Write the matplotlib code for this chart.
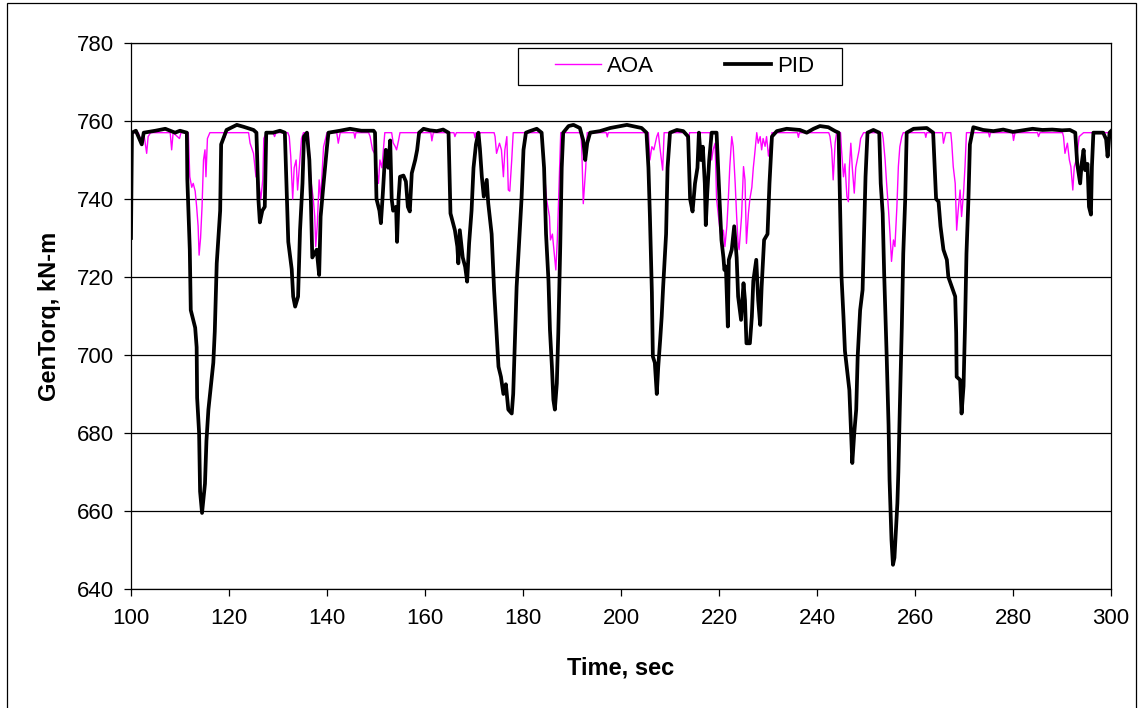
import matplotlib
matplotlib.use('Agg')
import matplotlib.pyplot as plt
from matplotlib.patches import Rectangle

plt.rcParams['font.family'] = ['Liberation Sans', 'DejaVu Sans']

# PID controller generator torque (time sec, kN-m)
pid_t = [100.0, 100.2, 101.0, 102.2, 102.6, 105.0, 107.0, 109.0, 110.0, 111.4,
         111.5, 112.0, 112.2, 113.1, 113.4, 113.5, 113.9, 114.1, 114.5, 115.1,
         115.4, 115.8, 116.8, 117.1, 117.5, 118.2, 118.4, 119.5, 121.6, 123.0,
         125.0, 125.6, 126.0, 126.3, 126.8, 127.3, 127.6, 129.0, 130.4, 131.4,
         132.1, 132.8, 133.1, 133.5, 134.1, 134.5, 135.0, 135.3, 135.9, 136.4,
         136.7, 137.0, 137.9, 138.4, 138.7, 139.3, 140.0, 140.3, 142.65, 144.7,
         147.0, 149.5, 149.8, 150.1, 150.7, 151.0, 151.4, 151.7, 152.0, 152.5,
         152.9, 153.2, 153.5, 154.1, 154.3, 154.6, 154.9, 155.6, 156.1, 156.5,
         156.9, 157.3, 158.0, 158.4, 158.8, 159.7, 161.0, 162.4, 163.7, 164.8,
         165.2, 166.1, 166.6, 166.8, 167.1, 167.7, 168.2, 168.6, 169.0, 169.5,
         169.9, 170.4, 170.9, 171.2, 171.6, 172.0, 172.6, 172.9, 173.6, 174.1,
         174.6, 175.0, 175.5, 176.0, 176.5, 177.0, 177.7, 178.0, 178.4, 178.7,
         179.3, 179.7, 180.1, 180.6, 181.4, 182.8, 183.8, 184.3, 184.7, 185.2,
         185.5, 185.9, 186.2, 186.5, 186.9, 187.2, 187.6, 187.9, 188.2, 189.3,
         190.3, 191.6, 192.3, 192.7, 193.1, 193.7, 195.7, 197.8, 201.2, 204.2,
         205.2, 205.6, 205.9, 206.3, 206.5, 206.9, 207.3, 207.6, 208.0, 208.3,
         208.6, 209.2, 209.5, 210.0, 211.4, 212.7, 213.7, 214.1, 214.6, 215.1,
         215.6, 215.9, 216.3, 216.7, 217.1, 217.3, 217.6, 218.0, 218.5, 219.5,
         220.1, 220.5, 220.9, 221.1, 221.4, 221.8, 222.0, 222.6, 223.1, 223.6,
         223.9, 224.5, 225.0, 225.3, 225.6, 226.3, 226.7, 227.0, 227.6, 228.0,
         228.4, 228.7, 229.2, 229.9, 230.3, 230.8, 231.8, 233.8, 236.5, 237.9,
         239.3, 240.6, 242.3, 243.7, 244.4, 245.0, 245.4, 245.7, 246.2, 246.6,
         246.9, 247.2, 247.6, 248.0, 248.3, 248.8, 249.3, 249.6, 249.9, 250.3,
         251.5, 252.7, 253.0, 253.4, 253.7, 254.2, 254.6, 254.8, 255.0, 255.2,
         255.5, 255.8, 256.1, 256.4, 256.6, 256.9, 257.3, 257.6, 258.0, 258.3,
         259.7, 262.4, 263.7, 264.3, 264.8, 265.2, 265.8, 266.5, 266.8, 267.5,
         268.2, 268.4, 268.5, 269.2, 269.5, 269.9, 270.2, 270.5, 270.9, 271.2,
         271.9, 273.9, 276.0, 278.0, 280.0, 282.0, 284.0, 286.0, 288.0, 290.0,
         291.6, 292.7, 293.1, 293.7, 294.0, 294.4, 294.7, 295.2, 295.5, 295.9,
         296.1, 296.4, 298.4, 299.0, 299.3, 299.7, 300.0]
pid_v = [730.0, 757.0, 757.5, 754.0, 757.0, 757.5, 758.0, 757.0, 757.5, 757.0,
         745.0, 727.0, 711.5, 707.0, 702.0, 689.0, 680.0, 665.0, 659.5, 667.0,
         678.0, 686.0, 698.0, 706.0, 723.5, 737.0, 754.0, 757.7, 759.0, 758.5,
         757.7, 757.0, 740.0, 734.0, 737.0, 738.0, 757.0, 757.0, 757.5, 757.0,
         729.0, 722.0, 715.0, 712.4, 715.0, 732.0, 744.0, 756.0, 757.0, 750.0,
         740.0, 725.0, 727.0, 720.5, 735.5, 744.0, 753.4, 757.0, 757.5, 758.0,
         757.5, 757.5, 757.0, 740.0, 737.0, 733.8, 741.5, 748.0, 752.6, 748.0,
         755.0, 740.0, 737.0, 738.0, 729.0, 740.0, 745.7, 746.0, 744.5, 738.0,
         736.8, 746.6, 750.0, 752.6, 757.0, 758.0, 757.6, 757.4, 757.8, 757.0,
         736.3, 732.0, 727.8, 723.5, 732.0, 725.0, 722.6, 718.8, 728.6, 737.0,
         748.0, 754.0, 757.0, 753.0, 745.7, 740.6, 744.9, 739.0, 731.0, 716.7,
         705.6, 697.0, 694.4, 690.0, 692.5, 686.0, 685.0, 690.0, 705.6, 717.5,
         731.0, 740.0, 752.6, 757.0, 757.4, 758.0, 757.0, 748.0, 731.0, 719.0,
         706.4, 697.0, 688.5, 686.0, 692.7, 705.6, 727.8, 748.0, 757.0, 758.7,
         759.0, 758.2, 755.0, 750.0, 754.3, 757.0, 757.4, 758.2, 759.0, 758.2,
         757.0, 748.0, 735.5, 716.0, 699.6, 698.0, 690.0, 697.0, 704.0, 709.8,
         717.5, 731.0, 748.0, 757.0, 757.7, 757.4, 756.0, 740.0, 736.8, 744.0,
         748.0, 757.0, 750.0, 753.4, 744.0, 733.3, 741.5, 750.0, 757.0, 757.0,
         740.0, 729.5, 725.0, 721.8, 722.7, 707.3, 724.4, 727.0, 733.0, 725.0,
         715.0, 709.0, 718.4, 714.0, 703.0, 703.0, 709.8, 719.0, 724.4, 714.0,
         707.7, 717.5, 729.5, 731.0, 744.0, 756.0, 757.4, 758.0, 757.7, 757.0,
         758.0, 758.7, 758.4, 757.4, 757.0, 720.0, 709.8, 701.0, 695.3, 691.0,
         681.5, 672.3, 680.0, 686.0, 699.6, 711.5, 716.7, 731.0, 745.7, 757.0,
         757.7, 757.0, 744.0, 736.3, 721.0, 700.4, 682.0, 668.0, 660.0, 652.6,
         646.2, 648.0, 655.0, 662.0, 670.0, 686.5, 707.0, 726.0, 740.0, 757.0,
         758.0, 758.2, 757.0, 740.0, 739.3, 733.0, 727.0, 724.4, 720.0, 717.5,
         715.0, 705.6, 694.4, 693.6, 685.0, 692.0, 707.3, 726.0, 740.0, 754.0,
         758.4, 757.7, 757.4, 757.8, 757.2, 757.6, 758.0, 757.7, 757.8, 757.6,
         757.7, 757.0, 749.0, 744.0, 749.0, 752.6, 747.4, 749.0, 738.0, 736.0,
         748.3, 757.0, 757.0, 755.3, 750.9, 757.0, 757.4]

# AOA controller generator torque (time sec, kN-m)
aoa_t = [100.0, 101.5, 102.2, 102.6, 103.2, 103.5, 104.0, 108.0, 108.3, 108.6,
         109.9, 110.2, 111.7, 112.0, 112.4, 112.7, 113.1, 113.4, 113.7, 113.9,
         114.2, 114.5, 114.8, 115.1, 115.3, 115.6, 116.1, 119.0, 119.2, 119.4,
         124.0, 124.3, 125.0, 125.5,
         126.0, 126.5, 126.9, 127.1, 127.6, 129.0, 129.3, 129.6, 132.0, 132.3, 132.6,
         133.0, 133.3, 133.7, 134.0, 134.35, 134.8, 135.2, 136.2, 136.7, 137.2,
         137.5, 137.7, 138.0, 138.4, 138.7, 139.3, 140.0, 142.0, 142.3, 142.7,
         145.5, 145.7, 145.9, 148.5,
         148.8, 149.3, 149.7, 150.1, 150.5, 150.8, 151.2, 151.5, 151.8, 153.2,
         153.5, 153.9, 154.2, 154.6, 154.9, 161.2, 161.4, 161.7, 165.9, 166.1, 166.4,
         170.0, 170.2, 170.4, 174.1, 174.3,
         174.6, 175.2, 175.6, 176.0, 176.3, 176.7, 177.0, 177.3, 177.7, 178.0,
         183.8, 184.3, 184.8, 185.4, 185.6, 186.0, 186.3, 186.7, 187.0, 187.3,
         187.7, 191.8, 192.0, 192.3, 192.8, 193.1, 197.0, 197.2, 197.4, 205.6,
         205.9, 206.3, 206.7, 207.3,
         207.6, 208.0, 208.5, 208.8, 213.2, 213.4, 213.7, 214.0, 218.2, 218.5, 218.8,
         219.2, 219.5, 219.9, 220.2, 220.5, 220.9, 221.2, 221.6, 221.9, 222.2,
         222.6, 222.9, 223.3, 223.6, 223.9, 224.1, 224.6, 225.0, 225.3, 225.6,
         226.0, 226.3, 226.7, 227.0, 227.3, 227.7, 228.0, 228.4, 228.7, 229.0,
         229.4, 229.7, 230.1, 230.4, 230.8, 236.0, 236.2, 236.4, 242.4, 242.65,
         243.0, 243.3, 243.7, 244.0,
         244.8, 245.0, 245.4, 245.7, 246.1, 246.4, 246.6, 246.9, 247.2, 247.6, 247.9,
         248.2, 248.6, 248.9, 249.5, 253.3, 253.5, 253.9, 254.2, 254.6, 254.9, 255.2,
         255.6, 255.9, 256.3, 256.6, 256.9, 257.3, 257.6, 262.0, 262.2, 262.4,
         265.6, 265.8, 266.1, 266.3, 267.3, 267.5,
         267.8, 268.2, 268.5, 268.8, 269.2, 269.5, 269.9, 270.2, 270.5, 275.0,
         275.2, 275.4, 279.9, 280.1,
         280.4, 285.0, 285.2, 285.5, 290.1, 290.3, 290.6, 291.1, 291.5, 291.8, 292.2, 292.5,
         292.9, 293.1, 293.5, 294.4, 300.0]
aoa_v = [757.0, 757.0, 754.5, 757.0, 751.7, 756.0, 757.0, 757.0, 752.6, 757.0,
         755.5, 757.0, 757.0, 745.7, 743.0, 744.0, 742.0, 738.0, 733.0, 725.6,
         730.0, 738.0, 750.0, 752.6, 745.7, 755.5, 757.0, 757.0, 755.8, 757.0,
         757.0, 754.3, 751.7, 745.7,
         745.0, 740.0, 745.0, 755.5, 757.0, 757.0, 756.0, 757.0, 757.0, 756.0, 751.0,
         740.0, 748.0, 750.0, 742.3, 748.0, 755.5, 757.0, 757.0, 744.9, 740.0,
         735.5, 727.8, 733.0, 744.9, 740.0, 753.4, 757.0, 757.0, 754.3, 757.0,
         757.0, 755.6, 757.0, 757.0,
         756.0, 752.6, 751.7, 748.0, 744.0, 750.0, 748.0, 752.6, 757.0, 757.0,
         754.4, 753.5, 752.6, 755.0, 757.0, 757.0, 754.9, 757.0, 757.0, 756.0, 757.0,
         757.0, 755.7, 757.0, 757.0, 756.0,
         751.7, 754.3, 752.6, 745.7, 752.6, 756.0, 742.3, 742.0, 750.0, 757.0,
         757.0, 748.0, 740.0, 735.5, 729.5, 731.0, 727.0, 721.8, 729.5, 741.5,
         757.0, 757.0, 752.6, 738.8, 748.0, 757.0, 757.0, 755.9, 757.0, 757.0,
         750.0, 753.4, 752.6, 756.0,
         757.0, 752.6, 747.4, 757.0, 757.0, 756.0, 754.3, 757.0, 757.0, 750.0, 752.6,
         754.3, 740.0, 735.5, 732.0, 729.5, 732.0, 727.8, 733.0, 740.0, 748.3,
         756.0, 753.4, 744.0, 735.5, 728.6, 727.0, 735.5, 748.3, 744.9, 728.6,
         736.3, 740.0, 743.0, 748.0, 751.7, 757.0, 754.3, 756.0, 752.6, 755.5,
         753.5, 756.0, 751.0, 753.5, 757.0, 757.0, 755.8, 757.0, 757.0, 756.0,
         752.6, 744.9, 754.4, 757.0,
         757.0, 752.6, 745.7, 749.0, 740.6, 739.3, 748.0, 754.3, 748.0, 741.5, 748.0,
         750.0, 752.6, 755.5, 757.0, 757.0, 755.5, 750.0, 744.0, 737.0, 731.0, 724.0,
         729.5, 727.8, 738.0, 748.3, 753.4, 756.0, 757.0, 757.0, 755.8, 757.0,
         757.0, 754.3, 756.0, 757.0, 757.0, 754.3,
         748.3, 744.0, 732.0, 737.0, 742.3, 735.5, 741.5, 748.3, 757.0, 757.0,
         755.9, 757.0, 757.0, 755.0,
         757.0, 757.0, 756.0, 757.0, 757.0, 756.0, 751.7, 754.3, 750.0, 748.3, 742.3, 748.3,
         750.0, 751.7, 756.0, 757.0, 757.0]

x_ticks = list(range(100, 301, 20))
y_ticks = list(range(640, 781, 20))

fig = plt.figure(figsize=(11.38, 7.08), dpi=100)
ax = fig.add_axes([0.1151, 0.1681, 0.8612, 0.7712])

ax.plot(aoa_t, aoa_v, color='#FF00FF', lw=1.0, label='AOA', zorder=3)
ax.plot(pid_t, pid_v, color='black', lw=2.7, label='PID', zorder=4)

ax.set_xlim(100, 300)
ax.set_ylim(640, 780)
ax.set_xticks(x_ticks)
ax.set_yticks(y_ticks)
ax.yaxis.grid(True, color='black', lw=0.9)
ax.set_axisbelow(True)
for s in ax.spines.values():
    s.set_color('black')
    s.set_linewidth(0.9)
ax.tick_params(direction='out', length=5, width=0.9, labelsize=16, color='black')
ax.tick_params(axis='x', pad=9)
ax.tick_params(axis='y', pad=7)

ax.set_xlabel('Time, sec', fontsize=17, fontweight='bold', va='center')
ax.set_ylabel('GenTorq, kN-m', fontsize=17, fontweight='bold', va='center')
ax.xaxis.set_label_coords(0.5, -0.145)
ax.yaxis.set_label_coords(-0.083, 0.5)

# legend box drawn separately so the inner spacing matches
ax.add_patch(Rectangle((0.3949, 0.923), 0.3306, 0.0678, transform=ax.transAxes,
                       facecolor='white', edgecolor='black', lw=0.9, zorder=6))
leg = ax.legend(loc='center left', bbox_to_anchor=(0.4327, 0.957), ncol=2,
                fontsize=16, frameon=False, handlelength=2.05,
                handletextpad=0.3, columnspacing=3.2, borderpad=0,
                borderaxespad=0)
leg.set_zorder(7)

# outer chart frame
fig.patches.append(Rectangle((7 / 1138, -0.01), 1129 / 1138, 1.0 - 3 / 708 + 0.01,
                             transform=fig.transFigure, fill=False,
                             edgecolor='black', lw=0.9))

fig.savefig('out.png', dpi=100)
